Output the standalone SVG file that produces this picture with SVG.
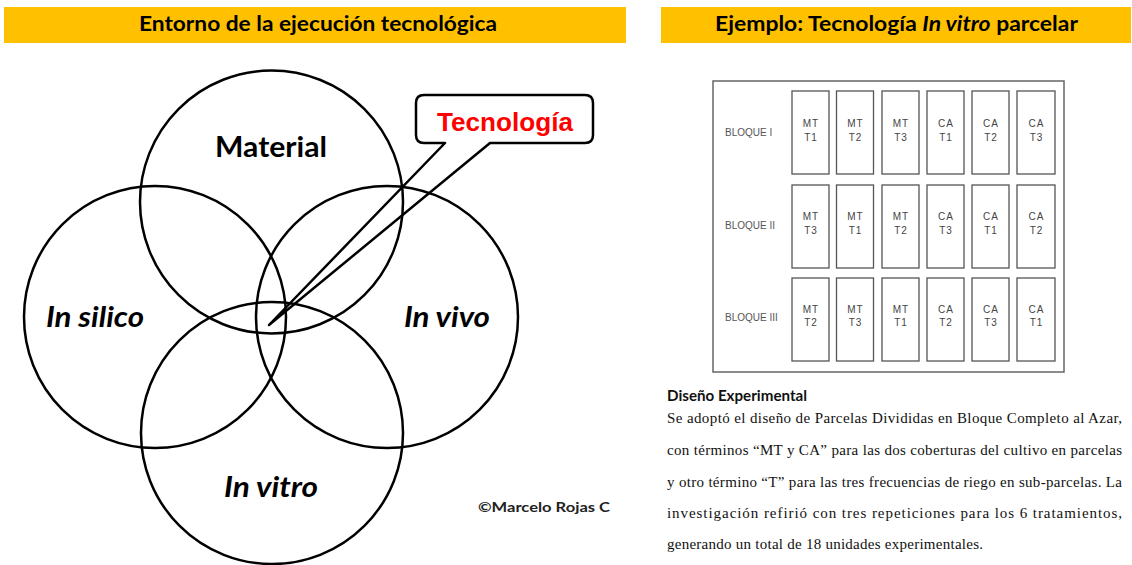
<svg xmlns="http://www.w3.org/2000/svg" width="1132" height="565" viewBox="0 0 1132 565">
<style>
.bar{fill:#FFC000}
.title{font-family:Lato,"Open Sans","Liberation Sans",sans-serif;font-weight:bold;font-size:20px;fill:#000}
.circ{fill:none;stroke:#000;stroke-width:2.5}
.lbl{font-family:Lato,"Open Sans","Liberation Sans",sans-serif;font-weight:bold;font-size:28px;fill:#000;text-anchor:middle}
.it{font-style:italic}
.cell{fill:#fff;stroke:#555;stroke-width:1.3}
.ct{font-family:"Liberation Sans",Arial,sans-serif;font-size:10px;fill:#444;text-anchor:middle;letter-spacing:1px}
.bl{font-family:"Liberation Sans",Arial,sans-serif;font-size:10px;fill:#555}
.para{font-family:"Liberation Serif","Times New Roman",serif;font-size:15px;fill:#111}
</style>
<rect width="1132" height="565" fill="#fff"/>

<g id="title-left">
<rect class="bar" x="4" y="7" width="622" height="36"/>
<text class="title" x="139" y="31" textLength="358" lengthAdjust="spacingAndGlyphs">Entorno de la ejecución tecnológica</text>
</g>
<g id="title-right">
<rect class="bar" x="661" y="7" width="470" height="36"/>
<text class="title" x="715" y="31" textLength="363" lengthAdjust="spacingAndGlyphs">Ejemplo: Tecnología <tspan class="it">In vitro</tspan> parcelar</text>
</g>

<g id="circle-material"><circle class="circ" cx="271.5" cy="202" r="131.5"/>
<text class="lbl" x="271" y="157" textLength="112" lengthAdjust="spacingAndGlyphs">Material</text></g>
<g id="circle-insilico"><circle class="circ" cx="155" cy="317" r="131"/>
<text class="lbl it" x="95" y="327" textLength="98" lengthAdjust="spacingAndGlyphs">In silico</text></g>
<g id="circle-invivo"><circle class="circ" cx="387" cy="317" r="131"/>
<text class="lbl it" x="447" y="327" textLength="86" lengthAdjust="spacingAndGlyphs">In vivo</text></g>
<g id="circle-invitro"><circle class="circ" cx="272" cy="433" r="131"/>
<text class="lbl it" x="271" y="497" textLength="94" lengthAdjust="spacingAndGlyphs">In vitro</text></g>

<g id="callout-tecnologia">
<rect x="416" y="95" width="177" height="48" rx="8" fill="#fff"/>
<path d="M445 143 L424 143 Q416 143 416 135 L416 103 Q416 95 424 95 L585 95 Q593 95 593 103 L593 135 Q593 143 585 143 L490 143 L269 325 Z" fill="none" stroke="#000" stroke-width="2.5" stroke-linejoin="round"/>
<text x="505" y="131" font-family="'Liberation Sans',Arial,sans-serif" font-weight="bold" font-size="26" fill="#FF0000" text-anchor="middle" textLength="136" lengthAdjust="spacingAndGlyphs">Tecnología</text>
</g>

<g id="copyright"><text x="478" y="512" font-family="Lato,'Open Sans',sans-serif" font-weight="bold" font-size="14" fill="#222" textLength="132" lengthAdjust="spacingAndGlyphs">©Marcelo Rojas C</text></g>

<g id="plot-layout">
<rect x="713" y="81" width="351" height="291" fill="#fff" stroke="#666" stroke-width="1.5"/>
<text class="bl" x="725" y="136">BLOQUE I</text>
<text class="bl" x="725" y="229">BLOQUE II</text>
<text class="bl" x="725" y="321">BLOQUE III</text>
<g id="row1">
<rect class="cell" x="792" y="91" width="37" height="83"/><text class="ct" x="811" y="127">MT</text><text class="ct" x="811" y="141">T1</text>
<rect class="cell" x="836.5" y="91" width="37" height="83"/><text class="ct" x="855.5" y="127">MT</text><text class="ct" x="855.5" y="141">T2</text>
<rect class="cell" x="882" y="91" width="37" height="83"/><text class="ct" x="901" y="127">MT</text><text class="ct" x="901" y="141">T3</text>
<rect class="cell" x="927" y="91" width="37" height="83"/><text class="ct" x="946" y="127">CA</text><text class="ct" x="946" y="141">T1</text>
<rect class="cell" x="972" y="91" width="37" height="83"/><text class="ct" x="991" y="127">CA</text><text class="ct" x="991" y="141">T2</text>
<rect class="cell" x="1017" y="91" width="38" height="83"/><text class="ct" x="1036.5" y="127">CA</text><text class="ct" x="1036.5" y="141">T3</text>
</g>
<g id="row2">
<rect class="cell" x="792" y="185" width="37" height="83"/><text class="ct" x="811" y="220">MT</text><text class="ct" x="811" y="234">T3</text>
<rect class="cell" x="836.5" y="185" width="37" height="83"/><text class="ct" x="855.5" y="220">MT</text><text class="ct" x="855.5" y="234">T1</text>
<rect class="cell" x="882" y="185" width="37" height="83"/><text class="ct" x="901" y="220">MT</text><text class="ct" x="901" y="234">T2</text>
<rect class="cell" x="927" y="185" width="37" height="83"/><text class="ct" x="946" y="220">CA</text><text class="ct" x="946" y="234">T3</text>
<rect class="cell" x="972" y="185" width="37" height="83"/><text class="ct" x="991" y="220">CA</text><text class="ct" x="991" y="234">T1</text>
<rect class="cell" x="1017" y="185" width="38" height="83"/><text class="ct" x="1036.5" y="220">CA</text><text class="ct" x="1036.5" y="234">T2</text>
</g>
<g id="row3">
<rect class="cell" x="792" y="278" width="37" height="83"/><text class="ct" x="811" y="313">MT</text><text class="ct" x="811" y="326">T2</text>
<rect class="cell" x="836.5" y="278" width="37" height="83"/><text class="ct" x="855.5" y="313">MT</text><text class="ct" x="855.5" y="326">T3</text>
<rect class="cell" x="882" y="278" width="37" height="83"/><text class="ct" x="901" y="313">MT</text><text class="ct" x="901" y="326">T1</text>
<rect class="cell" x="927" y="278" width="37" height="83"/><text class="ct" x="946" y="313">CA</text><text class="ct" x="946" y="326">T2</text>
<rect class="cell" x="972" y="278" width="37" height="83"/><text class="ct" x="991" y="313">CA</text><text class="ct" x="991" y="326">T3</text>
<rect class="cell" x="1017" y="278" width="38" height="83"/><text class="ct" x="1036.5" y="313">CA</text><text class="ct" x="1036.5" y="326">T1</text>
</g>
</g>

<g id="design-text">
<text x="667" y="401" font-family="Lato,'Open Sans',sans-serif" font-weight="bold" font-size="16" fill="#111" textLength="140" lengthAdjust="spacingAndGlyphs">Diseño Experimental</text>
<text class="para" x="667" y="423" textLength="455" lengthAdjust="spacing">Se adoptó el diseño de Parcelas Divididas en Bloque Completo al Azar,</text>
<text class="para" x="667" y="455" textLength="455" lengthAdjust="spacing">con términos “MT y CA” para las dos coberturas del cultivo en parcelas</text>
<text class="para" x="667" y="487" textLength="455" lengthAdjust="spacing">y otro término “T” para las tres frecuencias de riego en sub-parcelas. La</text>
<text class="para" x="667" y="518" textLength="455" lengthAdjust="spacing">investigación refirió con tres repeticiones para los 6 tratamientos,</text>
<text class="para" x="667" y="549" textLength="316" lengthAdjust="spacing">generando un total de 18 unidades experimentales.</text>
</g>
</svg>
